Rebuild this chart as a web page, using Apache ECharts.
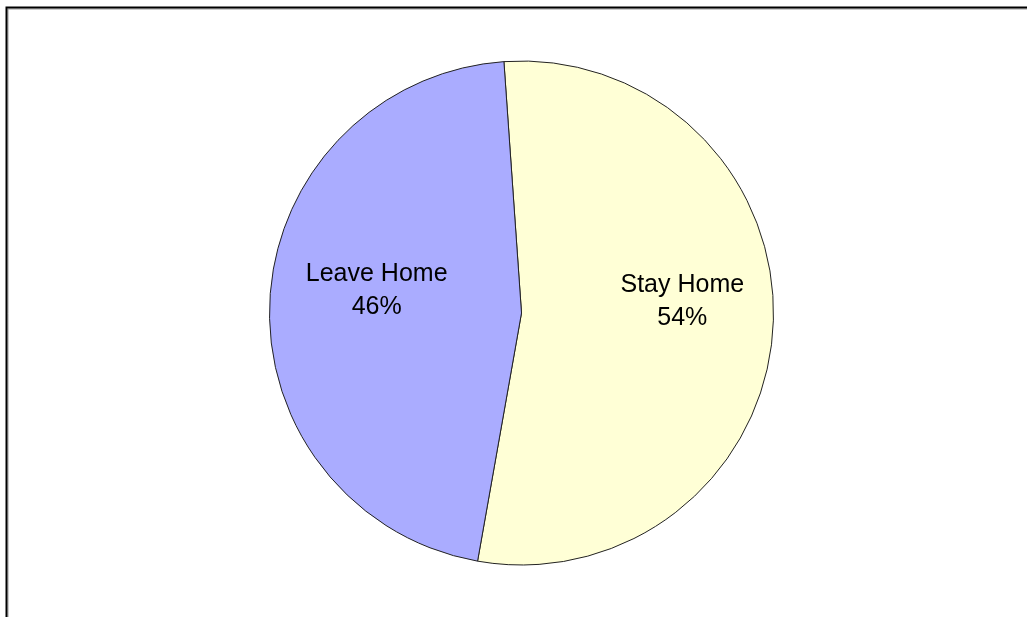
<!DOCTYPE html>
<html>
<head>
<meta charset="utf-8">
<script src="https://cdn.jsdelivr.net/npm/echarts@6/dist/echarts.min.js"></script>
<style>html,body{margin:0;padding:0;background:#fff;}#c{width:1027px;height:617px;}</style>
</head>
<body>
<div id="c"></div>
<script>
const categories = ['Stay Home', 'Leave Home'];
const values = [53.9, 46.1];
const colors = ['#FFFFD6', '#AAACFF'];
const labelShift = [[32, -18], [-16, -16]];

const chart = echarts.init(document.getElementById('c'), null, {renderer: 'canvas'});
chart.setOption({
  backgroundColor: '#ffffff',
  animation: false,
  graphic: [
    {type: 'rect', shape: {x: 8, y: 9, width: 1100, height: 700}, style: {fill: 'none', stroke: '#999', lineWidth: 1}},
    {type: 'rect', shape: {x: 6.5, y: 7.5, width: 1100, height: 700}, style: {fill: 'none', stroke: '#000', lineWidth: 2}}
  ],
  series: [{
    type: 'pie',
    center: [521.5, 313],
    radius: 252,
    startAngle: 94,
    clockwise: true,
    silent: true,
    data: categories.map((n, i) => ({name: n, value: values[i], itemStyle: {color: colors[i]}})),
    itemStyle: {borderColor: '#222', borderWidth: 1},
    label: {
      show: true,
      position: 'inside',
      formatter: p => p.name + '\n' + Math.round(p.percent) + '%',
      color: '#000',
      fontFamily: 'Liberation Sans, Arial, sans-serif',
      fontSize: 25,
      lineHeight: 33,
      align: 'center'
    },
    labelLayout: function (params) {
      const s = labelShift[params.dataIndex];
      return {dx: s[0], dy: s[1]};
    },
    labelLine: {show: false},
    emphasis: {disabled: true}
  }]
});
</script>
</body>
</html>
